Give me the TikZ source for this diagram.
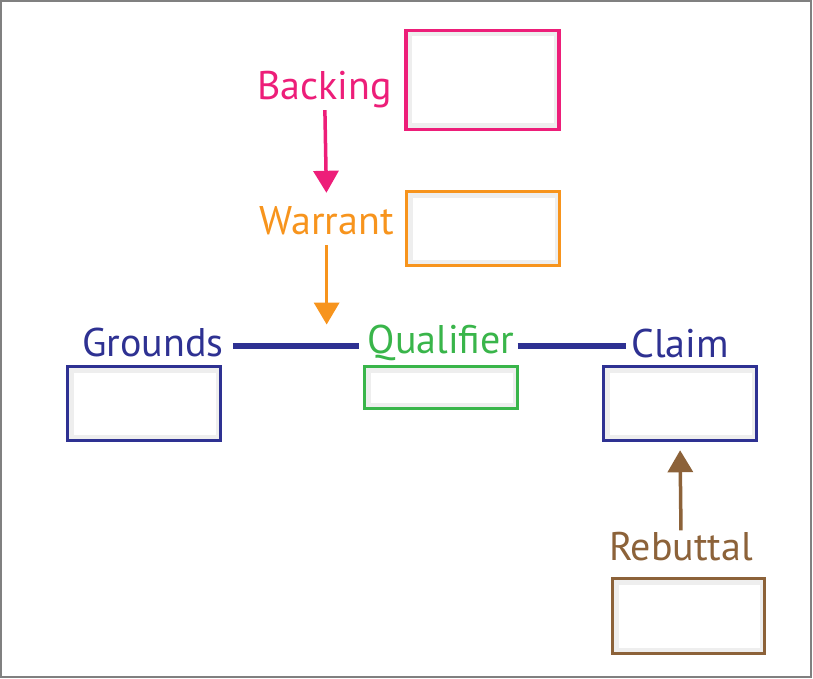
\documentclass[tikz,border=0pt]{standalone}
\usepackage{fontspec}
\setmainfont{PT Sans}
\usetikzlibrary{positioning,arrows.meta}

\begin{document}
\begin{tikzpicture}[x=1pt,y=-1pt,
  boite/.style={draw, line width=3.5pt, fill=ombre, inner sep=0pt,
    minimum width=153pt, minimum height=74pt,
    path picture={\fill[white] ([shift={(6pt,-6pt)}]path picture bounding box.north west)
      rectangle ([shift={(-5pt,6pt)}]path picture bounding box.south east);}},
  etiquette/.style={font=\fontsize{40}{44}\selectfont, inner sep=0pt,
    text height=28pt, text depth=6pt},
  fleche/.style={line width=3.5pt, -{Triangle[width=25pt,length=22pt]}},
  lien/.style={line width=6pt, color=bleu}]
  % Définition des couleurs
  \definecolor{rose}{RGB}{237,30,121}
  \definecolor{orange}{RGB}{247,148,29}
  \definecolor{bleu}{RGB}{46,49,146}
  \definecolor{vert}{RGB}{57,181,74}
  \definecolor{brun}{RGB}{140,98,57}
  \definecolor{ombre}{RGB}{238,238,238}
  \definecolor{cadre}{RGB}{128,128,128}

  % Cadre
  \useasboundingbox (0,0) rectangle (813,679);
  \draw[cadre, line width=2pt] (1,1) rectangle (811,677);

  % --- Boîtes ---
  \node[boite, draw=rose, minimum height=99pt] (backing) at (482.5,80) {};
  \node[boite, draw=orange] (warrant) at (483,228.5) {};
  \node[boite, draw=bleu] (grounds) at (144,403.5) {};
  \node[boite, draw=vert, minimum height=42pt] (qualifier) at (441,387.5) {};
  \node[boite, draw=bleu] (claim) at (680,403.5) {};
  \node[boite, draw=brun, minimum width=152pt, minimum height=75pt] (rebuttal) at (688.5,616) {};

  % --- Étiquettes ---
  \node[etiquette, color=rose, left=12pt of backing, yshift=-9pt] (lbacking) {Backing};
  \node[etiquette, color=orange, left=11pt of warrant, yshift=5.5pt] (lwarrant) {Warrant};
  \node[etiquette, color=bleu, above=2pt of grounds, xshift=9pt] (lgrounds) {Grounds};
  \node[etiquette, color=vert, above=5pt of qualifier] (lqualifier) {Qualifier};
  \node[etiquette, color=bleu, above=1pt of claim] (lclaim) {Claim};
  \node[etiquette, color=brun, above=10pt of rebuttal, xshift=-7.5pt] (lrebuttal) {Rebuttal};

  % --- Liens ---
  \draw[lien, shorten <=9pt, shorten >=8pt] (lgrounds.east) -- (lgrounds.east -| lqualifier.west);
  \draw[lien, shorten <=3pt, shorten >=5pt] (lgrounds.east -| lqualifier.east) -- (lgrounds.east -| lclaim.west);

  % --- Flèches ---
  \draw[fleche, color=rose, shorten <=4pt, shorten >=13pt] (lbacking.south) -- (lwarrant.north);
  \draw[fleche, color=orange, shorten <=5pt, shorten >=21pt] (lwarrant.south) -- (lwarrant.south |- lgrounds.east);
  \draw[fleche, color=brun, shorten <=2pt, shorten >=8pt] (lrebuttal.north) -- (claim.south);

\end{tikzpicture}
\end{document}
